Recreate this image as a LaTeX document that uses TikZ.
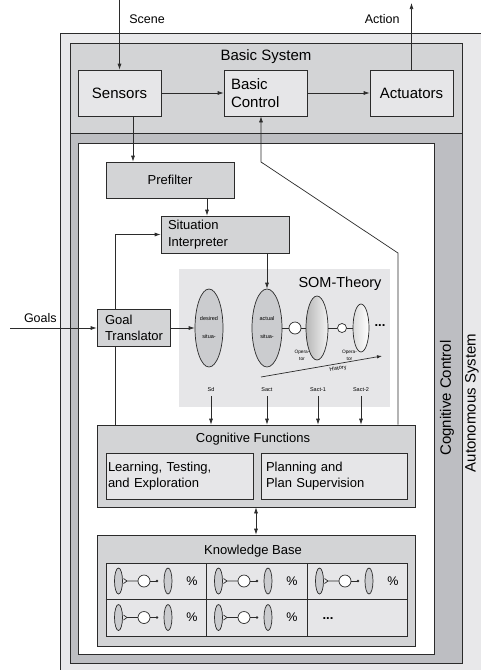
\documentclass[tikz,border=0pt]{standalone}
\usepackage{fontspec}
\setmainfont{Liberation Sans}
\usepackage{tikz}
\usetikzlibrary{arrows.meta,positioning,shapes.geometric,calc}
\definecolor{edge}{HTML}{2B2B2B}
\definecolor{autobg}{HTML}{E8E8EA}
\definecolor{basicbg}{HTML}{D3D4D6}
\definecolor{cogbg}{HTML}{BDBEC2}
\definecolor{boxdark}{HTML}{D3D4D6}
\definecolor{boxlight}{HTML}{E6E6E8}
\definecolor{sombg}{HTML}{E6E6E8}
\definecolor{ellfill}{HTML}{CBCCCF}
\newcommand{\fbig}{\fontsize{15}{18.5}\selectfont}
\newcommand{\fmid}{\fontsize{13}{16.5}\selectfont}
\newcommand{\fsmall}{\fontsize{12.5}{15}\selectfont}
\newcommand{\fsom}{\fontsize{14.5}{17}\selectfont}
\newcommand{\ftiny}{\fontsize{5.5}{18}\selectfont}
\newcommand{\fopr}{\fontsize{4.8}{7}\selectfont}
\newcommand{\fbold}{\fontsize{13}{15}\selectfont\bfseries}

\begin{document}
\begin{tikzpicture}[
  x=1pt, y=-1pt, line width=0.7pt,
  frame/.style={draw=edge, line width=0.8pt},
  box/.style={draw=edge, fill=boxlight, inner sep=0pt,
              minimum height=46pt, font=\fbig},
  pbox/.style={draw=edge, fill=boxdark, inner sep=0pt, font=\fmid},
  sit/.style={ellipse, draw=edge, fill=ellfill, inner sep=0pt,
              font=\ftiny, align=center},
  opr/.style={circle, draw=edge, fill=white, inner sep=0pt},
  lab/.style={inner sep=0pt, font=\fsmall},
  arr/.style={-{Latex[length=6pt,width=4pt]}, draw=edge},
  dblarr/.style={{Latex[length=6pt,width=4pt]}-{Latex[length=6pt,width=4pt]}, draw=edge}
]
\useasboundingbox (0,0) rectangle (480,670);

% nested system frames
\fill[autobg] (60,33) rectangle (485,675);
\draw[frame] (60,675) -- (60,33) -- (485,33);
\draw[frame, fill=basicbg] (70,43) rectangle (462,133);
\draw[frame, fill=cogbg] (70,133) rectangle (462,663);
\draw[frame, fill=white] (78,143) rectangle (434,654);
\node[lab, font=\fbig, rotate=90] (cogctl) at (447,398) {Cognitive Control};
\node[lab, font=\fbig, rotate=90] (autosys) at (472,403) {Autonomous System};

% basic system
\node[lab, font=\fbig] (bslabel) at (266,57) {Basic System};
\node[box, minimum width=83pt] (sensors) at (119.5,93) {Sensors};
\node[box, minimum width=83pt, text width=69pt, align=left] (bctrl) at (265.5,93) {Basic\\Control};
\node[box, minimum width=83pt] (act) at (411.5,93) {Actuators};
\coordinate (scenein) at (119.5,0);
\coordinate (actout) at (411.5,3);
\draw[arr] (scenein) -- (sensors.north)
  node[pos=0.27, right=9.5pt, lab] {Scene};
\draw[arr] (act.north) -- (actout)
  node[pos=0.76, left=11.5pt, lab] {Action};
\draw[arr] (sensors) -- (bctrl);
\draw[arr] (bctrl) -- (act);

% cognitive control
\node[pbox, minimum width=128pt, minimum height=36pt] (prefilter) at (170,180) {Prefilter};
\node[pbox, minimum width=128pt, minimum height=37pt, text width=114pt, align=left] (situation) at (225,234.5) {Situation\\Interpreter};
\node[pbox, minimum width=73pt, minimum height=37pt, text width=57pt, align=left] (goal) at (133.5,328) {Goal\\Translator};
\draw[arr] ([xshift=13.5pt]sensors.south) -- ([xshift=13.5pt]sensors.south |- prefilter.north);
\draw[arr] ([xshift=37pt]prefilter.south) -- ([xshift=37pt]prefilter.south |- situation.north);
\coordinate (goalsin) at (10,328);
\draw[arr] (goalsin) -- (goal.west)
  node[pos=0.35, above=5pt, lab] {Goals};

% SOM theory
\node[fill=sombg, minimum width=211pt, minimum height=138pt, inner sep=0pt] (som) at (284.5,338) {};
\node[lab, font=\fsom] (somlabel) at (340,284) {SOM-Theory};
\node[sit, minimum width=28pt, minimum height=78pt] (desired) at (209,328) {desired\\situa-};
\node[sit, minimum width=30pt, minimum height=78pt] (actual) at (267,328) {actual\\situa-};
\node[opr, minimum size=12pt] (op1) at (295,328) {};
\node[sit, minimum width=22pt, minimum height=64pt, left color=black!28, right color=black!5] (sit1) at (317,328) {};
\node[opr, minimum size=9pt] (op2) at (342,328) {};
\node[sit, minimum width=16pt, minimum height=48pt, left color=black!14, right color=white] (sit2) at (361,328) {};
\node[lab, font=\fbold] (more) at (380,326) {...};
\draw[edge] (actual) -- (op1) -- (sit1) -- (op2) -- (sit2);
\node[lab, font=\fopr, align=center] (op1lab) at (302,355) {Opera-\\tor};
\node[lab, font=\fopr, align=center] (op2lab) at (349.5,355) {Opera-\\tor};
\coordinate (histA) at (261,377);
\coordinate (histB) at (382,356);
\draw[-{Latex[length=5pt,width=3.5pt]}, draw=edge] (histA) -- (histB)
  node[pos=0.63, below=2pt, sloped, lab, font=\ftiny] {History};
\node[lab, font=\ftiny] (sd) at (211,390) {Sd};
\node[lab, font=\ftiny] (sact) at (267,390) {Sact};
\node[lab, font=\ftiny] (sact1) at (318,390) {Sact-1};
\node[lab, font=\ftiny] (sact2) at (361,390) {Sact-2};
\draw[arr] (goal.east) -- (desired.west);
\draw[arr] (situation.south -| actual.north) -- (actual.north);

% cognitive functions
\node[pbox, minimum width=318pt, minimum height=82pt] (cogfun) at (256,466) {};
\node[lab, font=\fmid] (cflabel) at (253,439) {Cognitive Functions};
\node[box, font=\fmid, minimum width=147pt, text width=143pt, align=left] (learn) at (179.5,476) {Learning, Testing,\\and Exploration};
\node[box, font=\fmid, minimum width=146pt, text width=136pt, align=left] (plan) at (334,476) {Planning and\\Plan Supervision};
\foreach \s in {sd,sact,sact1,sact2}
  \draw[arr] ([yshift=-4pt]\s.south) -- (\s.south |- cogfun.north);
\draw[edge] ([xshift=-18.5pt]goal.south |- cogfun.north) -- ([xshift=-18.5pt]goal.south);
\draw[arr] ([xshift=-18.5pt]goal.north) |- (situation.west);
\coordinate (fb1) at (398,253);
\coordinate (fb2) at (261,162);
\draw[arr] (cogfun.north -| fb1) -- (fb1) -- (fb2) -- (fb2 |- bctrl.south);

% knowledge base
\node[pbox, minimum width=318pt, minimum height=111pt] (kbase) at (256,590.5) {};
\node[lab, font=\fmid] (kblabel) at (253,551) {Knowledge Base};
\node[box, minimum width=301pt, minimum height=73pt] (kbtable) at (256.5,599.5) {};
\draw[edge] (kbtable.west) -- (kbtable.east);
\foreach \cx in {206,307}
  \draw[edge] (\cx,563) -- (\cx,636);
\foreach \cx/\cy [count=\i] in {106/581, 206/581, 307/581, 106/617.5, 206/617.5} {
  \begin{scope}[shift={(\cx,\cy)}]
    \draw[edge, fill=ellfill] (12.5,0) ellipse [x radius=4, y radius=13];
    \draw[edge] (17.5,-2.5) .. controls (19,-0.5) .. (21,0) -- (32,0);
    \draw[edge] (17.5,2.5) .. controls (19,0.5) .. (21,0);
    \draw[edge, fill=white] (38,0) circle [radius=6];
    \draw[edge] (44,0) -- (51,0);
    \fill[edge] (51,0) circle [radius=1.4];
    \draw[edge, fill=ellfill] (62,0) ellipse [x radius=4, y radius=13];
    \node[lab] (pct\i) at (86,0) {\%};
  \end{scope}
}
\node[lab, font=\fbold] (kbmore) at (328,619) {...};
\draw[dblarr] (cogfun.south) -- (kbase.north);
\end{tikzpicture}
\end{document}
